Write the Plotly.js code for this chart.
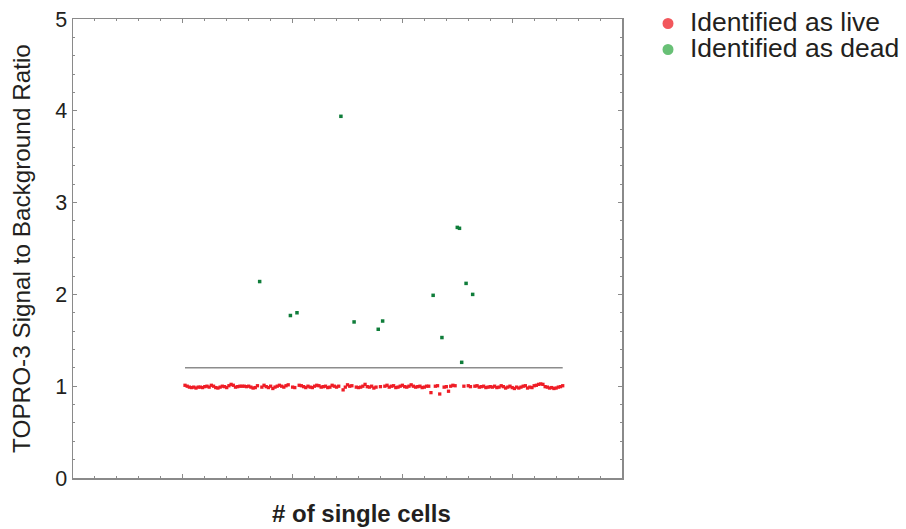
<!DOCTYPE html>
<html>
<head>
<meta charset="utf-8">
<script src="https://cdn.plot.ly/plotly-3.0.1.min.js"></script>
<style>
  html, body { margin: 0; padding: 0; background: #ffffff; }
  #chart { width: 906px; height: 529px; }
</style>
</head>
<body>
<div id="chart"></div>
<script>
// TOPRO-3 signal-to-background ratio for each single cell, in acquisition order (cell 1..173)
const ratio = [
  1.01, 1.00, 0.99, 0.985, 0.99, 0.98, 0.99, 0.99, 0.985, 0.995,
  1.00, 0.99, 1.01, 1.00, 0.985, 0.98, 0.99, 1.00, 0.995, 0.985,
  1.005, 1.02, 1.01, 0.99, 0.995, 1.00, 1.00, 1.00, 0.995, 1.00,
  0.99, 0.98, 0.985, 1.005, 2.14, 0.99, 1.01, 0.995, 0.985, 1.00,
  0.975, 0.99, 1.00, 1.01, 1.00, 0.99, 1.005, 1.015, 1.77, 0.99,
  0.985, 1.80, 1.01, 1.005, 0.995, 0.985, 1.00, 0.99, 0.985, 1.00,
  1.01, 1.005, 0.99, 0.995, 1.00, 0.985, 0.99, 1.01, 1.00, 0.99,
  1.00, 3.94, 0.96, 0.99, 1.015, 1.00, 1.005, 1.70, 0.99, 0.985,
  0.99, 1.00, 1.02, 0.995, 0.99, 1.00, 0.98, 0.99, 1.62, 0.995,
  1.71, 1.00, 1.01, 0.99, 1.00, 1.005, 0.985, 0.99, 1.00, 1.01,
  0.995, 0.99, 1.00, 1.015, 1.00, 0.99, 0.995, 1.00, 0.985, 0.99,
  1.00, 1.00, 0.93, 1.99, 1.00, 1.005, 0.915, 1.53, 0.99, 0.995,
  0.945, 1.00, 1.01, 1.005, 2.73, 2.72, 1.26, 1.00, 2.12, 1.005,
  0.995, 2.00, 1.00, 1.005, 0.99, 0.995, 1.00, 0.985, 0.99, 0.995,
  0.99, 1.00, 0.985, 0.99, 1.005, 0.995, 0.98, 0.99, 1.00, 0.985,
  0.975, 0.99, 0.98, 0.99, 1.00, 1.005, 0.98, 0.99, 0.985, 1.005,
  1.01, 1.02, 1.025, 1.02, 0.995, 0.99, 0.98, 0.985, 0.975, 0.98,
  0.99, 0.995, 1.005
];

// Cells above this ratio are called dead
const threshold = 1.2;

const legendLabels = ['Identified as live', 'Identified as dead'];

const cells = ratio.map((_, i) => i + 1);
const liveX = [], liveY = [], deadX = [], deadY = [];
ratio.forEach((r, i) => {
  if (r > threshold) { deadX.push(cells[i]); deadY.push(r); }
  else { liveX.push(cells[i]); liveY.push(r); }
});

const ink = '#231f20';
const axisGray = '#8a8a8a';
const font = 'Liberation Sans, Arial, Helvetica, sans-serif';

const traces = [
  {
    x: [cells[0], cells[cells.length - 1]],
    y: [threshold, threshold],
    mode: 'lines',
    line: { color: '#8c8c8c', width: 1.5 },
    hoverinfo: 'skip',
    showlegend: false
  },
  {
    x: liveX, y: liveY, name: legendLabels[0],
    mode: 'markers', type: 'scatter',
    marker: { symbol: 'square', size: 3.3, color: '#ef1d26' },
    showlegend: false
  },
  {
    x: deadX, y: deadY, name: legendLabels[1],
    mode: 'markers', type: 'scatter',
    marker: { symbol: 'square', size: 3.5, color: '#0f7d3a' },
    showlegend: false
  }
];

const commonAxis = {
  showline: true, linecolor: axisGray, linewidth: 1.5,
  mirror: 'ticks', ticks: 'inside', tickcolor: axisGray,
  showgrid: false, zeroline: false
};

// Legend drawn as paper-anchored dots and labels
const legendDots = [
  { y: 23.5, color: '#f2575c' },
  { y: 49.5, color: '#68c076' }
];
const plotTop = 19, plotBottom = 478, plotLeft = 73, plotRight = 622;
const toPaperY = py => (plotBottom - py) / (plotBottom - plotTop);
const toPaperX = px => (px - plotLeft) / (plotRight - plotLeft);

const shapes = legendDots.map(d => ({
  type: 'circle', xref: 'paper', yref: 'paper',
  xsizemode: 'pixel', ysizemode: 'pixel',
  xanchor: toPaperX(668), yanchor: toPaperY(d.y),
  x0: -5.5, x1: 5.5, y0: -5.5, y1: 5.5,
  fillcolor: d.color, line: { width: 0 }
}));

const annotations = legendLabels.map((t, i) => ({
  text: t, xref: 'paper', yref: 'paper',
  x: toPaperX(688), y: toPaperY(legendDots[i].y - 1.5),
  xanchor: 'left', yanchor: 'middle', showarrow: false,
  font: { family: font, size: 26.5, color: ink }
}));
annotations.push({
  text: '<b># of single cells</b>', xref: 'paper', yref: 'paper',
  x: toPaperX(361), y: toPaperY(513), xanchor: 'center', yanchor: 'middle',
  showarrow: false, font: { family: font, size: 24, color: ink }
});

const layout = {
  width: 906, height: 529,
  margin: { l: plotLeft, r: 906 - plotRight, t: plotTop, b: 529 - plotBottom },
  paper_bgcolor: '#ffffff', plot_bgcolor: '#ffffff',
  font: { family: font, color: ink },
  showlegend: false,
  xaxis: Object.assign({}, commonAxis, {
    range: [-50, 200], dtick: 50, tick0: 0, ticklen: 4,
    showticklabels: false,
    minor: { ticks: 'inside', dtick: 10, ticklen: 2, tickcolor: axisGray, showgrid: false }
  }),
  yaxis: Object.assign({}, commonAxis, {
    range: [0, 5], dtick: 1, tick0: 0, ticklen: 4,
    tickfont: { family: font, size: 21.5, color: ink },
    minor: { ticks: 'inside', dtick: 0.2, ticklen: 2, tickcolor: axisGray, showgrid: false },
    title: { text: 'TOPRO-3 Signal to Background Ratio', standoff: 17,
             font: { family: font, size: 24.3, color: ink } }
  }),
  shapes: shapes,
  annotations: annotations
};

Plotly.newPlot('chart', traces, layout, { staticPlot: true, displayModeBar: false });
</script>
</body>
</html>
